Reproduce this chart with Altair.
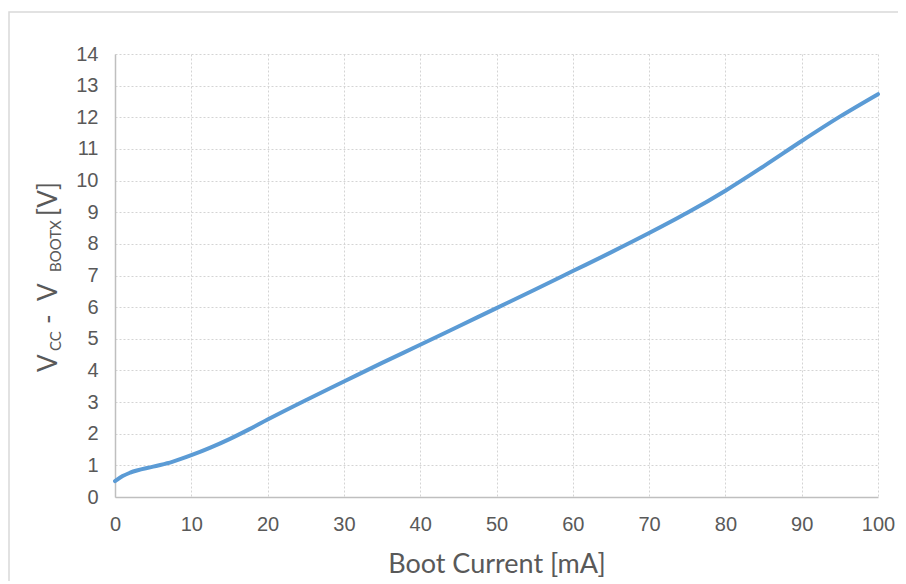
import altair as alt
import pandas as pd

# Data
boot_current_mA = [0, 1, 2, 5, 7.5, 10, 12.5, 15, 17.5, 20, 25, 30, 35, 40, 45,
                   50, 55, 60, 65, 70, 75, 80, 85, 90, 95, 100]
vcc_minus_vboot = [0.50, 0.66, 0.77, 0.96, 1.11, 1.32, 1.56, 1.83, 2.13, 2.45, 3.06,
                   3.65, 4.24, 4.81, 5.39, 5.97, 6.55, 7.14, 7.73, 8.34, 8.98, 9.68,
                   10.45, 11.25, 12.02, 12.73]
x_ticks = list(range(0, 101, 10))
y_ticks = list(range(0, 15, 1))

df = pd.DataFrame({"x": boot_current_mA, "y": vcc_minus_vboot})
one = pd.DataFrame({"k": [0]})

TXT = "#595959"
TITLE_FONT = "Lato"
LABEL_FONT = "Liberation Sans"

line = alt.Chart(df).mark_line(
    color="#5b9bd5", strokeWidth=4, interpolate="monotone", strokeCap="round"
).encode(
    x=alt.X("x:Q", scale=alt.Scale(domain=[0, 100], nice=False),
            axis=alt.Axis(values=x_ticks, title="Boot Current [mA]",
                          titleFont=TITLE_FONT, titleFontSize=27, titleFontWeight="normal",
                          titleColor=TXT, titleY=75, titleBaseline="alphabetic",
                          labelFont=LABEL_FONT, labelFontSize=20, labelColor=TXT,
                          labelPadding=17, ticks=False, labelFlush=False,
                          labelOverlap=False,
                          domainColor="#bfbfbf", domainWidth=1.5,
                          grid=True, gridColor="#d4d4d4", gridDash=[2, 2], gridWidth=1)),
    y=alt.Y("y:Q", scale=alt.Scale(domain=[0, 14], nice=False),
            axis=alt.Axis(values=y_ticks, title=None,
                          labelFont=LABEL_FONT, labelFontSize=20, labelColor=TXT,
                          labelPadding=17, ticks=False, labelFlush=False,
                          labelOverlap=False,
                          domainColor="#bfbfbf", domainWidth=1.5,
                          grid=True, gridColor="#d4d4d4", gridDash=[2, 2], gridWidth=1)),
)

border = alt.Chart(one).mark_rect(
    filled=False, stroke="#d9d9d9", strokeWidth=1.5
).encode(
    x=alt.value(-106), x2=alt.value(900), y=alt.value(-42), y2=alt.value(700)
)

def ytext(txt, ypos, xpos, size):
    return alt.Chart(one).mark_text(
        text=txt, angle=270, align="left", baseline="alphabetic",
        font=TITLE_FONT, fontSize=size, color=TXT
    ).encode(x=alt.value(xpos), y=alt.value(ypos))

MAIN = 26
SUB = 15
title_parts = [
    ytext("V", 318, -58, MAIN),
    ytext("CC", 297, -54, SUB),
    ytext("-", 270, -58, MAIN),
    ytext("V", 247, -58, MAIN),
    ytext("BOOTX", 218, -54, SUB),
    ytext("[V]", 162, -58, MAIN),
]

chart = alt.layer(border, line, *title_parts).properties(
    width=763, height=443,
    autosize=alt.AutoSizeParams(type="none"),
    padding={"left": 107, "top": 46, "right": 20, "bottom": 84},
).configure_view(strokeWidth=0)

chart.save("out.html", embed_options={"renderer": "svg", "actions": False})
